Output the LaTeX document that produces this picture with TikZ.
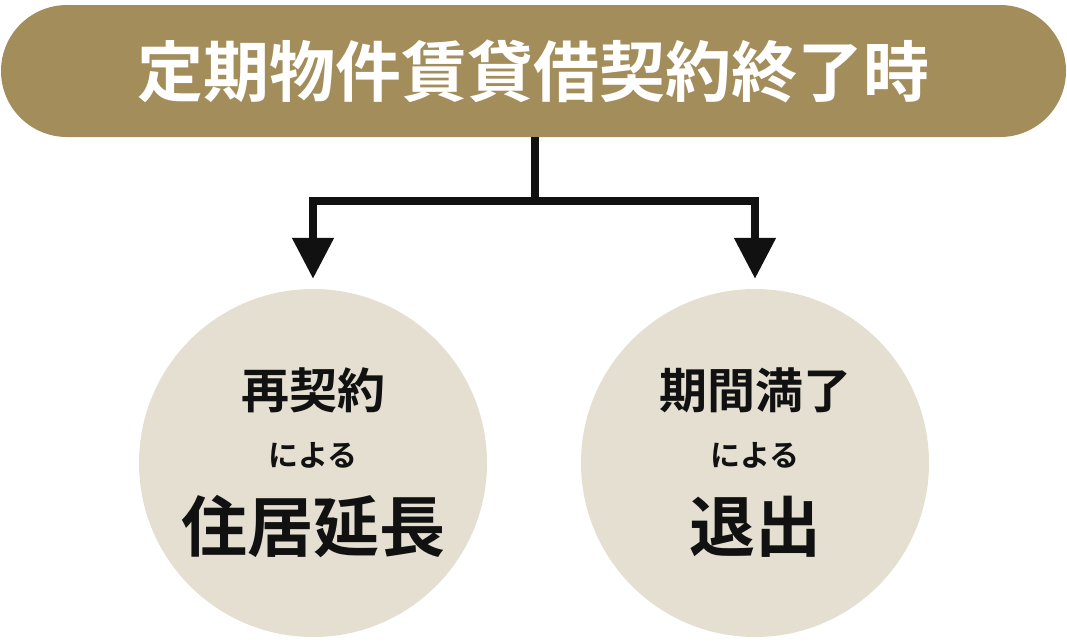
\documentclass[tikz,border=0pt]{standalone}
\usepackage{fontspec}
\setmainfont{Noto Sans CJK JP}[BoldFont={Noto Sans CJK JP Bold}]
\usetikzlibrary{arrows.meta}
\definecolor{barbrown}{HTML}{A38D5B}
\definecolor{circbeige}{HTML}{E4DFD1}
\definecolor{inkblack}{HTML}{111111}

\begin{document}
\begin{tikzpicture}[x=1pt, y=-1pt,
    bar/.style={fill=barbrown, rounded corners=66pt, minimum width=1065pt,
      minimum height=132pt, inner sep=0pt, text=white,
      font=\bfseries\fontsize{66}{66}\selectfont},
    outcome/.style={circle, fill=circbeige, minimum size=348pt, inner sep=0pt},
    small/.style={text=inkblack, font=\bfseries\fontsize{48}{48}\selectfont},
    tiny/.style={text=inkblack, font=\bfseries\fontsize{30}{30}\selectfont},
    big/.style={text=inkblack, font=\bfseries\fontsize{66}{66}\selectfont},
    branch/.style={line width=8pt, inkblack},
    tip/.style={-{Triangle[width=40pt, length=41pt]}, shorten >=10pt}]
    \useasboundingbox (0, 0) rectangle (1067, 641);
    % title
    \node [bar]       (title) at (533.5, 71) {定期物件賃貸借契約終了時};
    % outcomes
    \node [outcome]   (renew) at (313, 463) {};
    \node [outcome]   (leave) at (755, 463) {};
    \node [small]     (renewA) at (313, 390) {再契約};
    \node [tiny]      (renewB) at (313, 455) {による};
    \node [big]       (renewC) at (313, 527) {住居延長};
    \node [small]     (leaveA) at (755, 390) {期間満了};
    \node [tiny]      (leaveB) at (755, 455) {による};
    \node [big]       (leaveC) at (755, 527) {退出};
    % branches
    \coordinate       (split) at (535, 201);
    \draw [branch]    (title.south -| split) -- ([yshift=-4pt]split);
    \draw [branch, tip] (split) -| (renew.north);
    \draw [branch, tip] (split) -| (leave.north);
\end{tikzpicture}
\end{document}
